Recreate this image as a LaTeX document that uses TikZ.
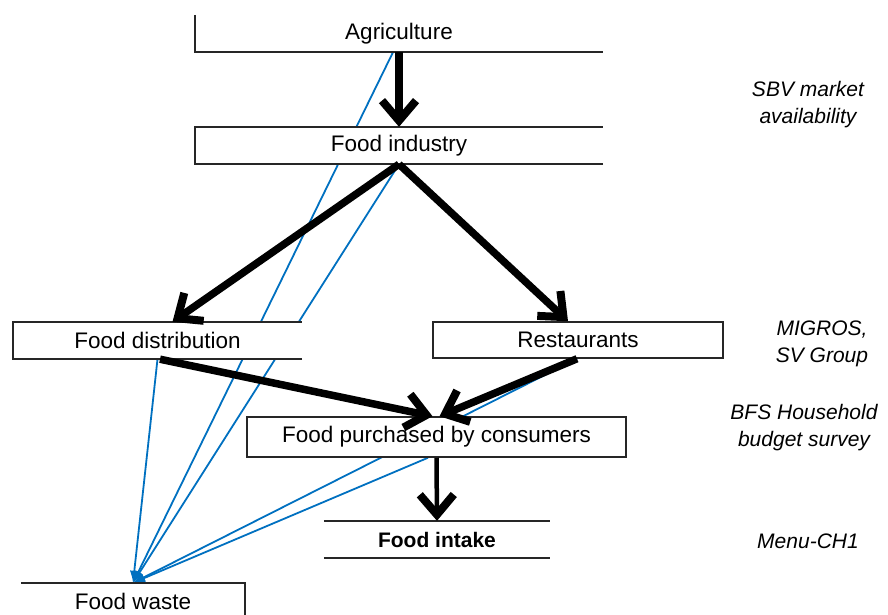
\documentclass[tikz,border=0pt]{standalone}
\usepackage{fontspec}
\setmainfont{Liberation Sans}
\usetikzlibrary{arrows.meta,backgrounds}

\definecolor{wasteblue}{RGB}{0,112,192}

\tikzset{
  stage/.style={fill=white, inner sep=0pt, font=\fontsize{22.5}{26}\selectfont},
  rim/.style={draw=black!85, line width=1.5pt},
  flow/.style={line width=7.5pt, -{Straight Barb[length=20pt,width=34pt,line width=8pt]}},
  loss/.style={wasteblue, line width=1.8pt, -{Latex[length=12pt,width=9pt]}},
  source/.style={font=\fontsize{21}{27}\selectfont\itshape, align=center}
}

\begin{document}
\begin{tikzpicture}[x=1pt,y=-1pt]
        \useasboundingbox (0,0) rectangle (888,614);

        % stages of the food chain
        \node[stage, minimum width=408, minimum height=37] (agri) at (399,33.5) {Agriculture};
        \node[stage, minimum width=408, minimum height=37] (ind) at (399,145.5) {Food industry};
        \node[stage, minimum width=289, minimum height=37] (dist) at (157.5,340.5) {Food distribution};
        \node[stage, rim, minimum width=290, minimum height=36] (rest) at (578,340) {Restaurants};
        \node[stage, rim, minimum width=379, minimum height=40] (purch) at (436.5,437) {Food purchased by consumers};
        \node[stage, minimum width=226, minimum height=37, font=\fontsize{21}{25}\selectfont\bfseries] (intake) at (437,539.5) {Food intake};
        \node[stage, minimum width=224, minimum height=36] (waste) at (133,601) {Food waste};

        % open box outlines
        \draw[rim] (agri.north west) -- (agri.south west) -- (agri.south east);
        \draw[rim] (ind.south east) -- (ind.south west) -- (ind.north west) -- (ind.north east);
        \draw[rim] (dist.south east) -- (dist.south west) -- (dist.north west) -- (dist.north east);
        \draw[rim] (intake.north west) -- (intake.north east) (intake.south west) -- (intake.south east);
        \draw[rim] (waste.north west) -- (waste.north east) -- ++(0,40);

        % waste flows, behind the boxes
        \begin{scope}[on background layer]
            \draw[loss] ([xshift=-6]agri.south) -- (waste.north);
            \draw[loss] (ind.south) -- (waste.north);
            \draw[loss] (dist.south) -- (waste.north);
            \draw[loss] ([xshift=-1]rest.south) -- (waste.north);
            \draw[loss] ([xshift=-8.5]purch.south) -- (waste.north);
        \end{scope}

        % food flows
        \draw[flow] (agri.south) -- (ind.north);
        \draw[flow] (ind.south) -- ([xshift=15]dist.north);
        \draw[flow] (ind.south) -- ([xshift=-10]rest.north);
        \draw[flow] ([xshift=2.5]dist.south) -- ([xshift=-4]purch.north);
        \draw[flow] ([xshift=-1]rest.south) -- ([xshift=3]purch.north);
        \draw[flow, line width=4.5pt] (purch.south) -- (intake.north);

        % data sources
        \node[source] (sbv) at (808,105) {SBV market\\availability};
        \node[source] (migros) at (822,343.5) {MIGROS,\\SV Group};
        \node[source] (bfs) at (804,428) {BFS Household\\budget survey};
        \node[source] (menu) at (808,541) {Menu-CH1};
\end{tikzpicture}
\end{document}
